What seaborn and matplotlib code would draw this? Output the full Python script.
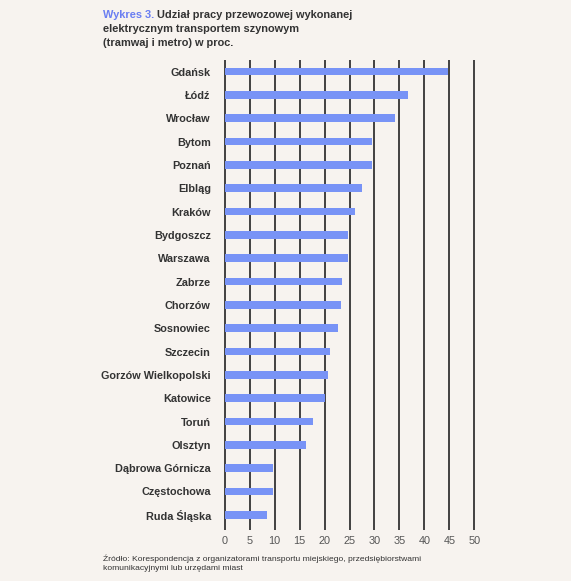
import matplotlib
matplotlib.use("Agg")
import matplotlib.pyplot as plt
import seaborn as sns
import pandas as pd


MIASTA = [
    "Gdańsk", "Łódź", "Wrocław", "Bytom", "Poznań", "Elbląg", "Kraków",
    "Bydgoszcz", "Warszawa", "Zabrze", "Chorzów", "Sosnowiec", "Szczecin",
    "Gorzów Wielkopolski", "Katowice", "Toruń", "Olsztyn",
    "Dąbrowa Górnicza", "Częstochowa", "Ruda Śląska",
]

UDZIAL = [
    44.7, 36.8, 34.1, 29.6, 29.5, 27.6, 26.1,
    24.7, 24.7, 23.4, 23.2, 22.6, 21.0,
    20.6, 20.0, 17.6, 16.3,
    9.7, 9.6, 8.4,
]

TICKI = [0, 5, 10, 15, 20, 25, 30, 35, 40, 45, 50]

TLO = "#f7f3ef"
NIEBIESKI = "#7893f6"
CIEMNY = "#333333"


df = pd.DataFrame({"miasto": MIASTA, "udzial": UDZIAL})

sns.set_style("white")
plt.rcParams["font.family"] = ["Liberation Sans", "DejaVu Sans"]

fig = plt.figure(figsize=(5.71, 5.81), dpi=100, facecolor=TLO)
ax = fig.add_axes([0.3923, 0.0878, 0.4396, 0.809])
ax.set_facecolor(TLO)

# linie siatki pod słupkami
for t in TICKI:
    ax.axvline(t, color=CIEMNY, lw=1.3, zorder=0)

sns.barplot(
    data=df,
    x="udzial",
    y="miasto",
    orient="h",
    color=NIEBIESKI,
    width=0.33,
    saturation=1,
    linewidth=0,
    ax=ax,
    zorder=2,
)

ax.set_xlim(-0.15, 50.15)
ax.set_ylim(19.65, -0.5)
ax.set_xticks(TICKI)
ax.set_xlabel("")
ax.set_ylabel("")
for s in ax.spines.values():
    s.set_visible(False)

ax.tick_params(axis="x", length=0, pad=4, labelsize=7.8, labelcolor="#555555")
ax.tick_params(axis="y", length=0, pad=9.5, labelsize=7.8, labelcolor=CIEMNY)
for lab in ax.get_yticklabels():
    lab.set_fontweight("bold")

# tytuł
x0 = 103 / 571
fs_t = 7.9
t1 = fig.text(x0, 1 - 15 / 581, "Wykres 3. ", color="#6a7ef2",
              fontsize=fs_t, fontweight="bold", va="center", ha="left")
fig.canvas.draw()
bb = t1.get_window_extent().transformed(fig.transFigure.inverted())
fig.text(bb.x1, 1 - 15 / 581, "Udział pracy przewozowej wykonanej",
         color=CIEMNY, fontsize=fs_t, fontweight="bold", va="center", ha="left")
fig.text(x0, 1 - 29 / 581, "elektrycznym transportem szynowym",
         color=CIEMNY, fontsize=fs_t, fontweight="bold", va="center", ha="left")
fig.text(x0, 1 - 43 / 581, "(tramwaj i metro) w proc.",
         color=CIEMNY, fontsize=fs_t, fontweight="bold", va="center", ha="left")

# źródło
fig.text(x0, 1 - 559 / 581,
         "Źródło: Korespondencja z organizatorami transportu miejskiego, przedsiębiorstwami",
         color=CIEMNY, fontsize=6.1, va="center", ha="left")
fig.text(x0, 1 - 569 / 581,
         "komunikacyjnymi lub urzędami miast",
         color=CIEMNY, fontsize=6.1, va="center", ha="left")

fig.savefig("out.png", dpi=100, facecolor=TLO)
